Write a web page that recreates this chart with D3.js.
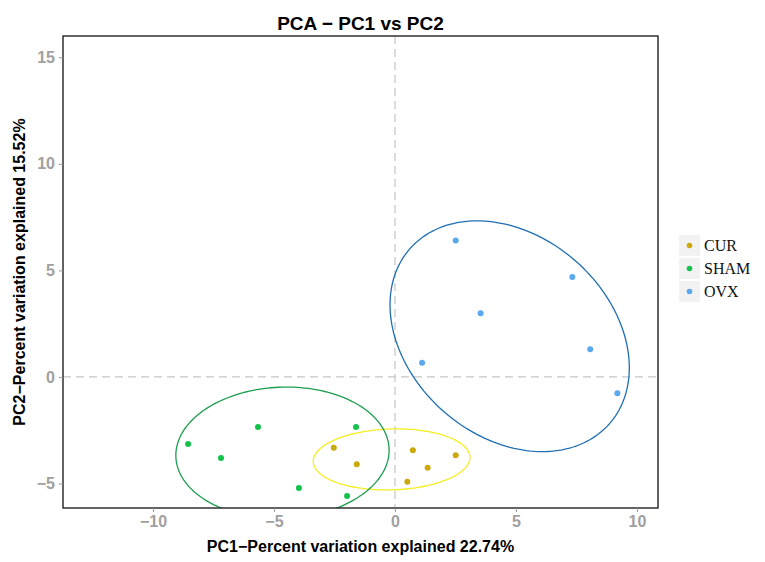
<!DOCTYPE html>
<html><head><meta charset="utf-8">
<script src="https://cdn.jsdelivr.net/npm/d3@7/dist/d3.min.js"></script>
<style>body{margin:0;background:#fff}</style>
</head><body>
<script>
const groups = ["CUR", "SHAM", "OVX"];
const pointColors = ["#c9a90c", "#12c24b", "#5aa9ef"];
const ellipseColors = ["#f5ee1e", "#1b9e4f", "#1f6fb4"];
const curPC1 = [-2.53, -1.58, 0.74, 1.35, 2.51, 0.51];
const curPC2 = [-3.32, -4.10, -3.44, -4.26, -3.68, -4.92];
const shamPC1 = [-8.55, -7.19, -5.66, -1.61, -3.97, -1.98];
const shamPC2 = [-3.15, -3.80, -2.35, -2.35, -5.21, -5.59];
const ovxPC1 = [2.51, 7.33, 3.54, 8.07, 1.12, 9.19];
const ovxPC2 = [6.40, 4.69, 2.99, 1.30, 0.67, -0.77];
// ellipse: center, semi-axes (data units), rotation (deg, data space)
const ellCx = [-0.14, -4.65, 4.74];
const ellCy = [-3.87, -3.56, 1.91];
const ellA = [3.24, 4.41, 5.88];
const ellB = [1.43, 3.08, 4.38];
const ellAngle = [2, 3, -54.2];
const xTicks = [-10, -5, 0, 5, 10];
const yTicks = [-5, 0, 5, 10, 15];
const xDomain = [-13.72, 10.87];
const yDomain = [-6.15, 16.0];

const W = 765, H = 562;
const L = 63, R = 658, T = 36, B = 508;
const svg = d3.select("body").append("svg").attr("width", W).attr("height", H);
const x = d3.scaleLinear().domain(xDomain).range([L, R]);
const y = d3.scaleLinear().domain(yDomain).range([B, T]);

svg.append("clipPath").attr("id","c").append("rect").attr("x",L).attr("y",T).attr("width",R-L).attr("height",B-T);

// reference lines
svg.append("line").attr("x1", x(0)).attr("x2", x(0)).attr("y1", T).attr("y2", B)
  .attr("stroke", "#c8c8c8").attr("stroke-width", 1.3).attr("stroke-dasharray", "8,5");
svg.append("line").attr("x1", L).attr("x2", R).attr("y1", y(0)).attr("y2", y(0))
  .attr("stroke", "#c8c8c8").attr("stroke-width", 1.3).attr("stroke-dasharray", "8,5");

const seriesX = [curPC1, shamPC1, ovxPC1];
const seriesY = [curPC2, shamPC2, ovxPC2];

// ellipses
const g = svg.append("g").attr("clip-path", "url(#c)");
groups.forEach((grp, i) => {
  const th = ellAngle[i] * Math.PI / 180;
  const pts = d3.range(0, 361, 2).map(d => {
    const t = d * Math.PI / 180;
    const ex = ellA[i] * Math.cos(t), ey = ellB[i] * Math.sin(t);
    return [ellCx[i] + ex * Math.cos(th) - ey * Math.sin(th),
            ellCy[i] + ex * Math.sin(th) + ey * Math.cos(th)];
  });
  g.append("path").attr("d", d3.line().x(p => x(p[0])).y(p => y(p[1]))(pts))
    .attr("fill", "none").attr("stroke", ellipseColors[i]).attr("stroke-width", 1.3);
});
// points
groups.forEach((grp, i) => {
  g.selectAll(null).data(seriesX[i].map((v, j) => [v, seriesY[i][j]])).enter()
    .append("circle").attr("cx", d => x(d[0])).attr("cy", d => y(d[1])).attr("r", 3)
    .attr("fill", pointColors[i]);
});

// panel border
svg.append("rect").attr("x", L).attr("y", T).attr("width", R - L).attr("height", B - T)
  .attr("fill", "none").attr("stroke", "#222").attr("stroke-width", 1.4);

// axes
const xa = svg.append("g").attr("transform", `translate(0,${B})`)
  .call(d3.axisBottom(x).tickValues(xTicks).tickSize(4).tickPadding(4).tickFormat(d => d < 0 ? "\u2212" + Math.abs(d) : d));
const ya = svg.append("g").attr("transform", `translate(${L},0)`)
  .call(d3.axisLeft(y).tickValues(yTicks).tickSize(4).tickPadding(4).tickFormat(d => d < 0 ? "\u2212" + Math.abs(d) : d));
[xa, ya].forEach(a => {
  a.select(".domain").remove();
  a.selectAll(".tick line").attr("stroke", "#999");
  a.selectAll(".tick text").attr("fill", "#a0a0a0").style("font-family", "Liberation Sans, Arial, sans-serif")
    .style("font-size", "16px").style("font-weight", "bold");
});

// titles
svg.append("text").attr("x", (L + R) / 2).attr("y", 30).attr("text-anchor", "middle")
  .style("font-family", "Liberation Sans, Arial, sans-serif").style("font-size", "19px").style("font-weight", "bold")
  .text("PCA \u2212 PC1 vs PC2");
svg.append("text").attr("x", (L + R) / 2).attr("y", 552).attr("text-anchor", "middle")
  .style("font-family", "Liberation Sans, Arial, sans-serif").style("font-size", "16px").style("font-weight", "bold")
  .text("PC1\u2212Percent variation explained 22.74%");
svg.append("text").attr("transform", `translate(25,${(T + B) / 2}) rotate(-90)`).attr("text-anchor", "middle")
  .style("font-family", "Liberation Sans, Arial, sans-serif").style("font-size", "16px").style("font-weight", "bold")
  .text("PC2\u2212Percent variation explained 15.52%");

// legend
const lg = svg.append("g").attr("transform", "translate(679,235)");
groups.forEach((grp, i) => {
  const row = lg.append("g").attr("transform", `translate(0,${i * 23})`);
  row.append("rect").attr("x", 0).attr("y", 0).attr("width", 21).attr("height", 21).attr("fill", "#f2f2f2");
  row.append("circle").attr("cx", 10.5).attr("cy", 10.5).attr("r", 2.8).attr("fill", pointColors[i]);
  row.append("text").attr("x", 25).attr("y", 16).style("font-family", "Liberation Serif, Times New Roman, serif")
    .style("font-size", "16px").attr("fill", "#111").text(grp);
});
</script>
</body></html>
